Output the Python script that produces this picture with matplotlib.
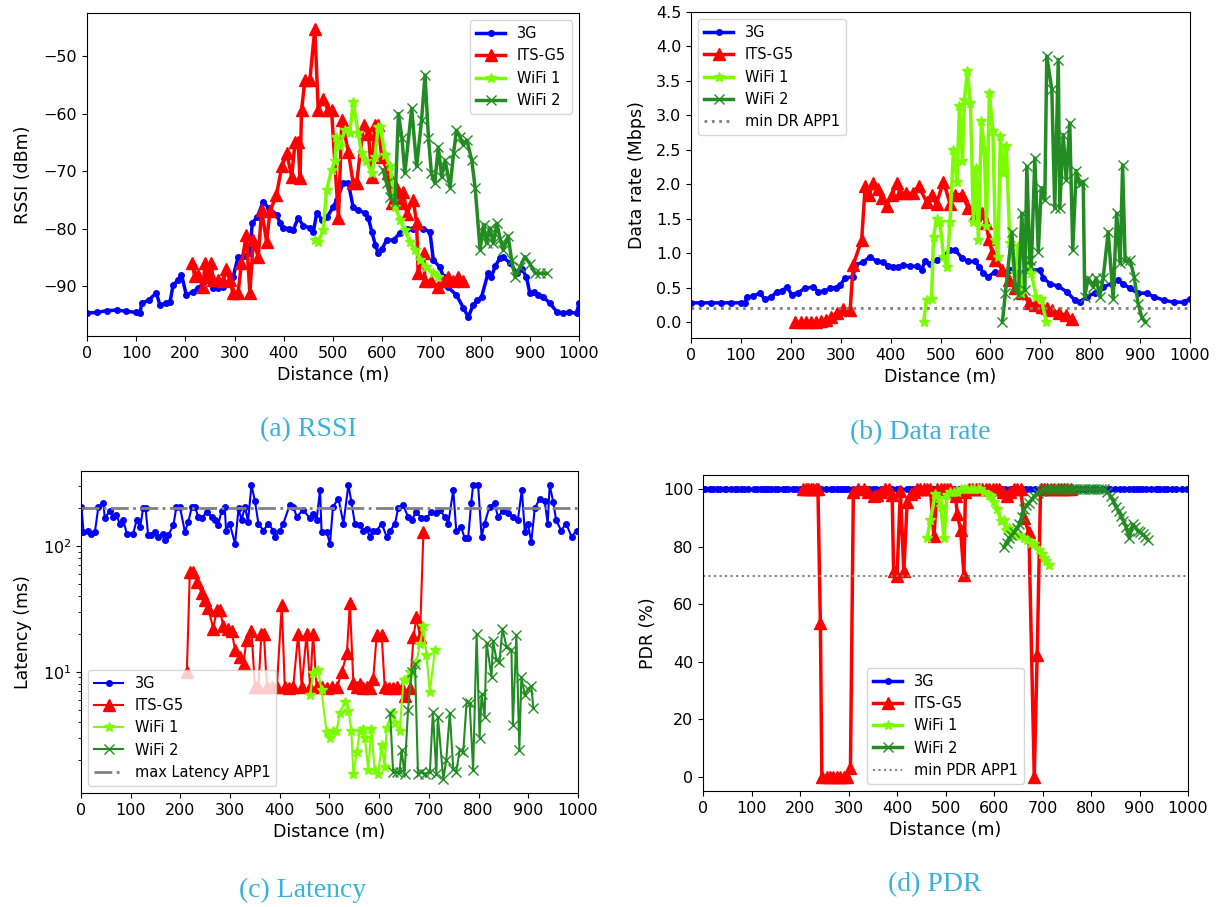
import numpy as np
import matplotlib
matplotlib.use("Agg")
import matplotlib.pyplot as plt

# ---- RSSI (dBm) ----
rssi_3g_d = [0, 20, 40, 60, 80, 100, 108, 111, 125, 141, 148, 160, 169, 175, 185, 192, 202, 215, 226, 236,
             246, 256, 266, 276, 287, 297, 307, 319, 331, 336, 346, 358, 370, 386, 392, 399, 410, 419, 429, 440,
             453, 460, 467, 478, 488, 500, 508, 521, 531, 541, 551, 565, 572, 579, 586, 592, 600, 609, 623, 636,
             650, 663, 683, 697, 704, 717, 725, 734, 751, 765, 775, 785, 793, 802, 815, 822, 830, 839, 846, 860,
             874, 884, 893, 900, 908, 917, 927, 941, 955, 968, 980, 995, 1000]
rssi_3g = [-94.7, -94.6, -94.3, -94.2, -94.4, -94.6, -94.7, -93, -92.5, -91.2, -93.3, -93, -92.7, -89.8, -89, -88,
           -91.6, -91, -90.4, -89.5, -88, -90.3, -90.4, -90.2, -89.5, -88.4, -85, -84.8, -84.3, -79, -78, -75.4,
           -76.5, -77.6, -79, -79.9, -80, -80.3, -78.2, -79.5, -79.9, -80.6, -77.3, -78.5, -78, -76.3, -75, -72,
           -72, -76.3, -76.8, -77.3, -78.2, -80.6, -82.8, -84.3, -83.5, -82, -82, -80.8, -80, -80, -80, -80.6,
           -85.5, -86.7, -88.5, -90.2, -91.6, -93.8, -95.4, -93.3, -92.5, -91.9, -87.8, -88.4, -86.5, -85.2, -85,
           -86, -87.8, -87, -88.4, -91.2, -91, -91.6, -91.9, -93, -94.5, -94.7, -94.6, -94.7, -93]

rssi_its_d = [213, 219, 226, 236, 240, 247, 253, 256, 266, 277, 283, 290, 297, 307, 314, 324, 331, 338, 348, 355,
              365, 372, 385, 396, 406, 416, 423, 429, 433, 436, 443, 453, 463, 470, 480, 490, 497, 511, 518, 531,
              541, 548, 562, 572, 579, 585, 592, 599, 612, 619, 629, 636, 643, 650, 663, 670, 673, 684, 687, 700,
              714, 724, 734, 744, 755, 765]
rssi_its = [-86, -88.3, -88, -90.2, -86, -88.5, -86, -89, -89, -89.2, -87, -89, -91.3, -91.3, -86, -81.2, -91.3,
            -82, -85, -76.8, -82.3, -77, -74.2, -69.2, -66.9, -71, -64.9, -64.9, -71.2, -59.4, -54.2, -54.2, -45.2,
            -59.4, -57.4, -59.4, -59.4, -78.2, -61.1, -66.6, -72.1, -72.1, -62, -63.5, -71, -62, -62, -67.5, -70.4,
            -75.6, -72.7, -75.6, -73.6, -77.4, -75, -79.1, -87.8, -84.3, -89.2, -89.2, -90.1, -89.2, -88.4, -89.2,
            -88.4, -89.2]

rssi_wifi1_d = [463, 470, 480, 487, 497, 504, 507, 514, 524, 534, 541, 551, 558, 568, 579, 585, 592, 596, 606, 616,
                626, 636, 646, 656, 667, 677, 690, 704, 714]
rssi_wifi1 = [-82, -82.3, -80.3, -73.3, -69.8, -68.3, -64, -65.7, -62.9, -63.4, -58, -63.3, -66.9, -68.3, -70.4,
              -67.6, -62.3, -62.3, -67.2, -69.2, -76.2, -78.5, -80.3, -82.3, -83.8, -85.5, -86.7, -87.8, -88.4]

rssi_wifi2_d = [602, 609, 616, 626, 633, 640, 646, 660, 670, 680, 687, 694, 700, 707, 714, 721, 728, 738, 745, 751,
                758, 765, 772, 782, 789, 799, 806, 812, 819, 826, 833, 840, 846, 856, 863, 870, 880, 890, 900, 911,
                921, 934]
rssi_wifi2 = [-69.8, -72.1, -74.5, -75.6, -60, -64.2, -70.4, -59.1, -69.2, -61.1, -53.3, -64.2, -70.4, -72.1, -65.8,
              -71, -68.1, -72.9, -66.9, -62.9, -64, -65.5, -64.6, -68.1, -73, -83.7, -79.3, -82.6, -79.9, -82.6,
              -79.1, -81.9, -83.7, -81.3, -85.5, -88.4, -86.7, -84.9, -86.1, -87.8, -87.8, -87.8]

# ---- Data rate (Mbps) ----
dr_3g_d = [0, 20, 40, 60, 80, 100, 108, 112, 125, 138, 148, 160, 172, 182, 192, 202, 215, 228, 245, 255, 267, 279,
           290, 299, 309, 325, 329, 345, 359, 372, 385, 395, 405, 415, 425, 439, 452, 462, 469, 479, 492, 505, 519,
           529, 543, 556, 569, 578, 586, 596, 609, 623, 639, 656, 673, 699, 706, 719, 736, 753, 769, 779, 793, 809,
           826, 843, 856, 866, 879, 896, 913, 927, 947, 967, 987, 1000]
dr_3g = [0.28, 0.28, 0.28, 0.28, 0.28, 0.28, 0.28, 0.36, 0.38, 0.42, 0.33, 0.36, 0.44, 0.45, 0.51, 0.40, 0.43, 0.49,
         0.51, 0.44, 0.45, 0.49, 0.5, 0.54, 0.64, 0.66, 0.83, 0.87, 0.95, 0.88, 0.87, 0.82, 0.8, 0.8, 0.83, 0.81,
         0.81, 0.76, 0.88, 0.85, 0.9, 0.95, 1.05, 1.05, 0.93, 0.88, 0.88, 0.8, 0.71, 0.66, 0.73, 0.71, 0.75, 0.71,
         0.75, 0.76, 0.64, 0.56, 0.52, 0.44, 0.32, 0.29, 0.37, 0.42, 0.51, 0.56, 0.61, 0.56, 0.49, 0.42, 0.42, 0.37,
         0.32, 0.29, 0.29, 0.34]

dr_its_d = [209, 220, 230, 240, 250, 260, 270, 280, 292, 305, 319, 325, 342, 349, 357, 365, 375, 382, 392, 402, 412,
            419, 430, 445, 456, 472, 482, 492, 506, 519, 530, 543, 556, 569, 583, 591, 597, 604, 610, 624, 637, 650,
            664, 677, 690, 704, 714, 724, 737, 751, 764]
dr_its = [0.0, 0.0, 0.0, 0.0, 0.0, 0.01, 0.03, 0.07, 0.13, 0.19, 0.18, 0.83, 1.19, 1.97, 1.85, 2.02, 1.93, 1.8, 1.69,
          1.84, 2.02, 1.87, 1.87, 1.87, 1.97, 1.75, 1.84, 1.72, 2.04, 1.72, 1.85, 1.85, 1.65, 1.56, 1.58, 1.44, 1.2,
          1.0, 0.9, 0.76, 0.61, 0.49, 0.42, 0.28, 0.25, 0.22, 0.2, 0.17, 0.13, 0.1, 0.05]

dr_wifi1_d = [466, 472, 482, 486, 492, 499, 506, 513, 519, 526, 533, 538, 544, 548, 554, 560, 566, 571, 576, 582,
              588, 592, 598, 605, 610, 615, 620, 625, 632, 639, 649, 656, 662, 672, 682, 692, 702, 712]
dr_wifi1 = [0.0, 0.32, 0.34, 1.24, 1.5, 1.45, 0.95, 0.8, 1.45, 2.5, 2.04, 3.13, 2.34, 3.23, 3.64, 3.18, 1.46, 2.24,
            1.19, 2.92, 2.5, 1.39, 3.33, 2.77, 1.19, 0.95, 2.7, 2.17, 2.55, 1.15, 0.71, 1.1, 0.42, 0.9, 0.71, 0.37,
            0.34, 0.0]

dr_wifi2_d = [624, 630, 643, 650, 656, 663, 669, 673, 679, 682, 689, 696, 702, 709, 713, 723, 729, 736, 739, 746,
              752, 759, 765, 772, 779, 786, 789, 796, 806, 812, 819, 826, 836, 846, 853, 860, 865, 870, 880, 888,
              896, 903, 910]
dr_wifi2 = [0.0, 0.42, 1.31, 0.51, 0.4, 1.58, 0.47, 2.26, 0.9, 0.81, 2.38, 1.02, 1.95, 1.77, 3.86, 3.38, 1.65, 3.81,
            1.65, 2.72, 2.06, 2.89, 1.05, 2.2, 2.0, 2.04, 0.37, 0.64, 0.51, 0.64, 0.37, 0.64, 1.31, 0.34, 1.58, 0.86,
            2.28, 0.88, 0.9, 0.66, 0.27, 0.08, 0.0]
min_dr_app1 = 0.2

# ---- Latency (ms) ----
lat_3g_d = [1, 5, 14, 21, 28, 35, 45, 48, 58, 65, 71, 78, 85, 92, 105, 112, 119, 125, 130, 135, 141, 148, 155, 165,
            169, 176, 186, 192, 199, 209, 216, 223, 229, 236, 243, 253, 263, 269, 276, 283, 289, 292, 299, 310, 317,
            323, 330, 336, 343, 350, 357, 367, 377, 387, 390, 400, 407, 420, 427, 434, 447, 461, 467, 474, 481, 484,
            494, 501, 507, 518, 528, 538, 544, 551, 561, 568, 575, 581, 588, 595, 605, 615, 622, 632, 638, 648, 658,
            665, 675, 685, 695, 705, 715, 722, 732, 739, 749, 755, 765, 772, 779, 785, 789, 799, 806, 812, 822, 832,
            839, 849, 859, 869, 879, 887, 893, 899, 906, 913, 923, 933, 939, 943, 950, 956, 966, 976, 987, 997]
lat_3g = [204, 129, 132, 125, 129, 204, 217, 165, 190, 170, 175, 150, 160, 125, 125, 160, 140, 198, 198, 122, 122,
          129, 118, 125, 111, 122, 146, 204, 204, 129, 155, 204, 204, 170, 165, 186, 170, 160, 146, 190, 204, 132,
          150, 104, 198, 160, 204, 155, 303, 226, 150, 132, 150, 132, 118, 132, 150, 210, 204, 170, 192, 165, 180,
          160, 277, 129, 129, 104, 204, 237, 150, 303, 224, 150, 146, 132, 135, 118, 132, 132, 150, 118, 132, 150,
          198, 210, 170, 160, 186, 165, 165, 186, 181, 192, 170, 150, 277, 132, 140, 115, 115, 217, 303, 303, 118,
          150, 204, 217, 170, 190, 181, 170, 160, 277, 129, 150, 107, 198, 237, 226, 150, 303, 224, 160, 132, 150,
          118, 132]

lat_its_d = [213, 219, 226, 233, 243, 250, 256, 266, 273, 280, 286, 296, 303, 310, 320, 327, 333, 343, 350, 357,
             363, 368, 374, 384, 394, 404, 410, 418, 427, 437, 444, 454, 461, 467, 474, 484, 494, 505, 515, 525, 535,
             541, 548, 555, 561, 568, 575, 581, 588, 595, 605, 611, 620, 628, 636, 645, 652, 662, 669, 675, 682, 689]
lat_its = [10, 62, 62, 52, 42, 37, 32, 22, 31, 31, 23, 22, 21, 15, 13, 11.6, 18, 21, 7.6, 7.6, 20, 20, 7.6, 7.5,
           7.5, 34, 7.6, 7.4, 7.6, 20, 7.6, 20, 7.6, 20, 7.6, 7.5, 7.4, 7.5, 7.5, 10, 14, 35, 8.2, 7.6, 8, 7.4, 7.6,
           7.4, 8.8, 19.6, 19.6, 7.6, 7.4, 7.4, 7.5, 7.4, 6.4, 7.4, 18.9, 27, 19, 129]

lat_wifi1_d = [461, 467, 477, 484, 494, 501, 507, 514, 521, 531, 538, 544, 548, 555, 561, 568, 571, 578, 584, 591,
               598, 605, 611, 615, 625, 631, 641, 649, 655, 662, 675, 682, 689, 695, 702, 712]
lat_wifi1 = [6.5, 9.7, 10.3, 7.1, 3.3, 3.0, 3.4, 3.4, 4.7, 5.8, 4.9, 3.4, 1.55, 2.3, 3.4, 3.5, 3.0, 1.65, 3.5, 1.65,
             1.55, 2.6, 1.75, 3.6, 4.7, 3.9, 3.4, 8.6, 8.8, 10, 11.9, 16.6, 23, 13.5, 6.9, 14.8]

lat_wifi2_d = [622, 628, 635, 641, 645, 651, 658, 665, 672, 678, 685, 692, 702, 708, 715, 718, 729, 735, 742, 749,
               755, 762, 769, 776, 782, 789, 796, 802, 806, 812, 816, 826, 829, 836, 842, 848, 856, 866, 869, 876,
               882, 886, 893, 899, 906, 910]
lat_wifi2 = [4.7, 1.6, 1.6, 1.6, 2.4, 1.55, 5.0, 9.9, 11.6, 1.55, 1.6, 1.55, 1.6, 4.8, 1.55, 4.4, 1.4, 2.0, 4.7, 1.7,
             1.6, 2.4, 2.3, 5.8, 5.6, 1.65, 20, 3.0, 6.6, 4.4, 17, 9.1, 17.5, 12.5, 12, 22, 15.8, 15, 3.8, 19.6, 2.4,
             9.1, 6.5, 7.3, 7.7, 5.2]
max_lat_app1 = 200

# ---- PDR (%) ----
pdr_3g = [100] * len(lat_3g_d)

pdr_its_d = [207, 212, 217, 222, 227, 232, 237, 242, 245, 255, 262, 269, 276, 283, 290, 296, 304, 310, 320, 331,
             341, 352, 359, 366, 376, 383, 390, 393, 400, 407, 414, 421, 428, 435, 441, 448, 455, 462, 469, 476, 483,
             490, 497, 503, 510, 517, 521, 524, 531, 538, 541, 548, 555, 562, 569, 576, 583, 590, 597, 604, 611, 618,
             627, 634, 641, 648, 655, 662, 672, 683, 689, 696, 703, 710, 717, 724, 731, 738, 745, 751, 758]
pdr_its = [100, 100, 100, 100, 100, 100, 100, 53.5, 0, 0, 0, 0, 0, 0, 0, 0, 2.9, 99, 100, 100, 99, 97.6, 98, 99,
           100, 100, 98, 71.5, 69.8, 99.5, 71.5, 95.5, 98.5, 99, 100, 100, 100, 100, 100, 83.7, 100, 100, 100, 100,
           100, 99, 97.6, 91.5, 86, 70.3, 99, 100, 100, 100, 100, 100, 100, 100, 100, 100, 100, 99, 97.6, 99, 100,
           100, 100, 90, 85, 0, 42.5, 100, 100, 100, 100, 100, 100, 100, 100, 100, 100]

pdr_wifi1_d = [462, 469, 479, 486, 490, 497, 503, 510, 517, 524, 531, 538, 545, 552, 559, 566, 572, 580, 589, 593,
               600, 607, 614, 620, 624, 631, 638, 645, 652, 661, 669, 676, 683, 693, 698, 703, 708, 713]
pdr_wifi1 = [83, 89.5, 98.4, 97, 94, 83, 98, 99, 99, 99, 100, 100, 100, 100, 100, 100, 100, 99, 98, 97.6, 95.5, 93,
             89, 89.5, 86, 86.6, 84.5, 84, 83.7, 83, 82.5, 81.5, 81, 79, 77.5, 76, 75, 73.5]

pdr_wifi2_d = [621, 626, 631, 636, 641, 647, 652, 657, 662, 667, 672, 678, 683, 690, 696, 703, 710, 717, 724, 731,
               738, 745, 752, 758, 765, 772, 779, 786, 793, 800, 807, 814, 820, 827, 834, 841, 846, 851, 857, 862,
               867, 872, 879, 886, 891, 896, 902, 907, 912, 917]
pdr_wifi2 = [80, 81.5, 83, 84, 85, 86.5, 87.8, 90.5, 93, 94.5, 95.3, 96.5, 97.6, 98.8, 99.4, 100, 100, 100, 100, 100,
             100, 100, 100, 100, 100, 100, 100, 100, 100, 100, 100, 100, 100, 100, 99, 97.6, 96, 94, 92.5, 90.7, 89,
             87, 83, 87.8, 87, 85.6, 85, 84.3, 83.5, 82.5]
min_pdr_app1 = 70

W, H = 1227, 907
fig = plt.figure(figsize=(W / 100, H / 100), dpi=100)


def box(l, t, r, b):
    return [l / W, 1 - b / H, (r - l) / W, (b - t) / H]


TICK = 11.5
LAB = 12.5
LEG = 10.5
cap_color = '#38b2dc'


def draw(ax, series, lw):
    d3, v3, d5, v5, d1, v1, d2, v2 = series
    ax.plot(d3, v3, '.-', color='blue', lw=lw, ms=8, label='3G')
    ax.plot(d5, v5, '^-', color='red', lw=lw, ms=8, label='ITS-G5')
    ax.plot(d1, v1, '*-', color='lawngreen', lw=lw, ms=7, label='WiFi 1')
    ax.plot(d2, v2, 'x-', color='forestgreen', lw=lw, ms=7, label='WiFi 2')


# (a) RSSI
ax = fig.add_axes(box(87, 13, 579, 336))
draw(ax, (rssi_3g_d, rssi_3g, rssi_its_d, rssi_its, rssi_wifi1_d, rssi_wifi1, rssi_wifi2_d, rssi_wifi2), 2.5)
ax.set_ylim(-98.7, -42.5)
ax.set_ylabel('RSSI (dBm)', fontsize=LAB, labelpad=8)
ax.legend(loc='upper right', fontsize=LEG)

# (b) Data rate
ax = fig.add_axes(box(691, 12, 1190, 338))
draw(ax, (dr_3g_d, dr_3g, dr_its_d, dr_its, dr_wifi1_d, dr_wifi1, dr_wifi2_d, dr_wifi2), 2.5)
ax.axhline(min_dr_app1, color='gray', ls=':', lw=2, label='min DR APP1')
ax.set_ylim(-0.23, 4.5)
ax.set_yticks(np.arange(0, 4.51, 0.5))
ax.set_ylabel('Data rate (Mbps)', fontsize=LAB, labelpad=7)
ax.legend(loc='upper left', fontsize=LEG)

# (c) Latency
ax = fig.add_axes(box(81, 471, 578, 793))
draw(ax, (lat_3g_d, lat_3g, lat_its_d, lat_its, lat_wifi1_d, lat_wifi1, lat_wifi2_d, lat_wifi2), 1.5)
ax.axhline(max_lat_app1, color='gray', ls='-.', lw=2, label='max Latency APP1')
ax.set_yscale('log')
ax.set_ylim(1.09, 392)
ax.set_ylabel('Latency (ms)', fontsize=LAB, labelpad=8)
ax.legend(loc='lower left', fontsize=LEG)

# (d) PDR
ax = fig.add_axes(box(703, 475, 1188, 791))
draw(ax, (lat_3g_d, pdr_3g, pdr_its_d, pdr_its, pdr_wifi1_d, pdr_wifi1, pdr_wifi2_d, pdr_wifi2), 2.5)
ax.axhline(min_pdr_app1, color='gray', ls=':', lw=1.5, label='min PDR APP1')
ax.set_ylim(-5, 105)
ax.set_ylabel('PDR (%)', fontsize=LAB)
ax.legend(loc='lower center', fontsize=LEG)

for a in fig.axes:
    a.set_xlim(0, 1000)
    a.set_xticks(np.arange(0, 1001, 100))
    a.set_xlabel('Distance (m)', fontsize=LAB)
    a.tick_params(labelsize=TICK)

cap = dict(ha='center', va='center', fontsize=20, color=cap_color, family='Liberation Serif')
fig.text(308 / W, 1 - 430 / H, '(a) RSSI', **cap)
fig.text(920 / W, 1 - 433 / H, '(b) Data rate', **cap)
fig.text(303 / W, 1 - 890 / H, '(c) Latency', **cap)
fig.text(935 / W, 1 - 885 / H, '(d) PDR', **cap)

fig.savefig('out.png', dpi=100)
